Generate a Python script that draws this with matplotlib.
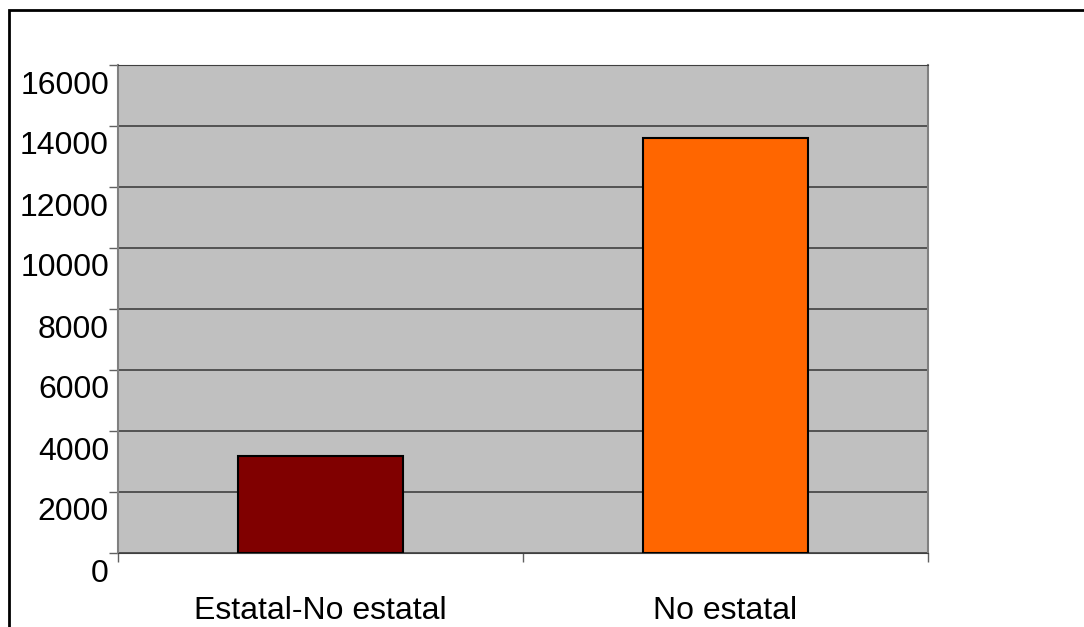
import matplotlib.pyplot as plt
import matplotlib.transforms as mtransforms
from matplotlib.patches import Rectangle

categories = ["Estatal-No estatal", "No estatal"]
values = [3180, 13610]
colors = ["#800000", "#FF6600"]
yticks = [0, 2000, 4000, 6000, 8000, 10000, 12000, 14000, 16000]

plt.rcParams['font.family'] = ['Liberation Sans', 'DejaVu Sans']

W, H = 1084, 627
fig = plt.figure(figsize=(W / 100, H / 100), dpi=100)

# outer frame (left and top edges only visible)
x0, y0 = 9 / W, 1 - 10 / H
fig.patches.append(Rectangle((x0, -1), 2, y0 + 1, transform=fig.transFigure,
                             fill=False, edgecolor="black", linewidth=2))

ax = fig.add_axes([118 / W, 1 - 553 / H, (928 - 118) / W, (553 - 65) / H])
ax.set_facecolor("#C0C0C0")

x = list(range(len(categories)))
ax.bar(x, values, width=0.405, color=colors, edgecolor="black", linewidth=1.5, zorder=3)

ax.set_xlim(-0.5, 1.5)
ax.set_ylim(0, 16000)
ax.set_yticks(yticks)
ax.set_yticklabels([str(v) for v in yticks], fontsize=23)
ax.yaxis.grid(True, color="#404040", linewidth=1.2, zorder=1)
ax.set_axisbelow(True)

ax.set_xticks(x)
ax.set_xticklabels(categories, fontsize=23)
ax.set_xticks([-0.5, 0.5, 1.5], minor=True)
ax.tick_params(axis="x", which="major", length=0, pad=31)
ax.tick_params(axis="x", which="minor", length=6.5, width=1, color="#606060", direction="out")
ax.tick_params(axis="y", length=6.5, width=1, color="#606060", pad=0)

# shift y labels below their ticks
offset = mtransforms.ScaledTranslation(0, -0.17, fig.dpi_scale_trans)
for lab in ax.get_yticklabels():
    lab.set_transform(lab.get_transform() + offset)

for side in ["left", "right"]:
    ax.spines[side].set_color("#808080")
    ax.spines[side].set_linewidth(1.5)
ax.spines["top"].set_color("#404040")
ax.spines["bottom"].set_color("#404040")

fig.savefig("out.png", dpi=100)
